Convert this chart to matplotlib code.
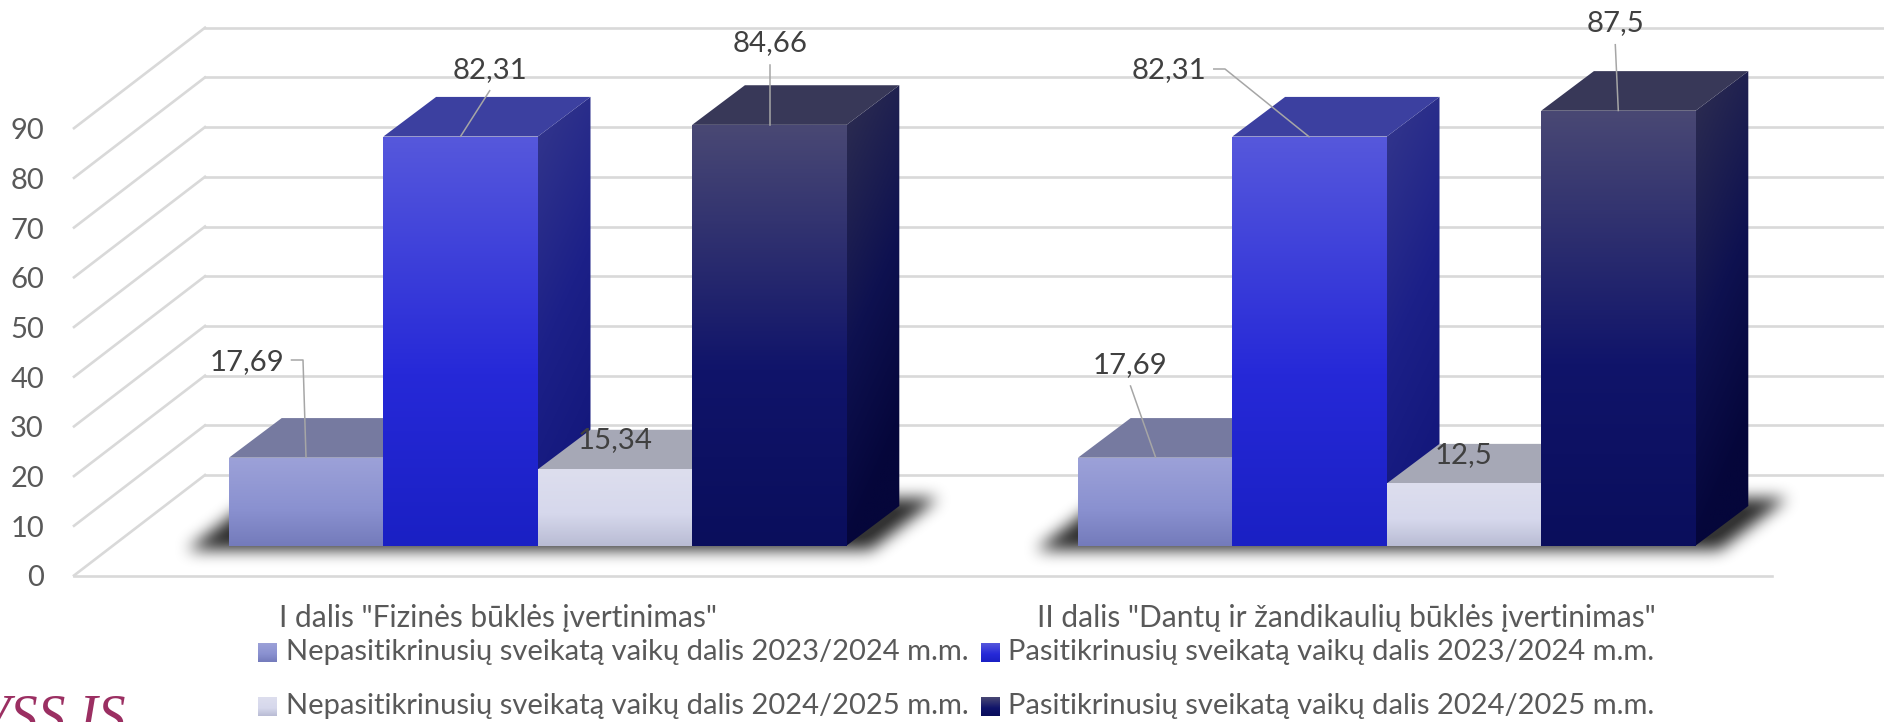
import numpy as np
import matplotlib
matplotlib.use('Agg')
import matplotlib.pyplot as plt
from matplotlib.colors import LinearSegmentedColormap
from matplotlib.patches import Polygon
from matplotlib.path import Path

plt.rcParams['font.family'] = ['Lato', 'DejaVu Sans']

# data
groups = ['I dalis "Fizinės būklės įvertinimas"',
          'II dalis "Dantų ir žandikaulių būklės įvertinimas"']
nepasitikrinusiu_2324 = [17.69, 17.69]
pasitikrinusiu_2324 = [82.31, 82.31]
nepasitikrinusiu_2425 = [15.34, 12.5]
pasitikrinusiu_2425 = [84.66, 87.5]
series_names = ['Nepasitikrinusių sveikatą vaikų dalis 2023/2024 m.m.',
                'Pasitikrinusių sveikatą vaikų dalis 2023/2024 m.m.',
                'Nepasitikrinusių sveikatą vaikų dalis 2024/2025 m.m.',
                'Pasitikrinusių sveikatą vaikų dalis 2024/2025 m.m.']
y_ticks = [0, 10, 20, 30, 40, 50, 60, 70, 80, 90]
label_texts = [['17,69', '82,31', '15,34', '84,66'],
               ['17,69', '82,31', '12,5', '87,5']]

series = [nepasitikrinusiu_2324, pasitikrinusiu_2324,
          nepasitikrinusiu_2425, pasitikrinusiu_2425]

# colours: front gradient, top face, side gradient
front_cols = [['#9CA1D8', '#8A91D0', '#747BBB'],
              ['#5658DC', '#2629D8', '#1A20C4'],
              ['#DDDEEE', '#D6D8EC', '#B9BCD4'],
              ['#494874', '#10146A', '#0A0E5C']]
top_cols = ['#767AA0', '#3C40A0', '#A6A8B6', '#383858']
side_cols = [['#6A6FA8', '#5A60A0', '#4A5090'],
             ['#34378C', '#1C2088', '#14187C'],
             ['#B0B2C8', '#A0A2BC', '#8A8CA8'],
             ['#2E2E50', '#0E1150', '#05063A']]

# layout in pixels
W, H = 1884, 722
BASE = 545.6      # bar bottom
SCALE = 4.97      # px per unit
GROUP_X = [229, 1078]
BAR_W = 154.4
DX, DY = 52.7, 39.6
FRONT_X, BACK_X = 74, 205
FRONT_0, BACK_0 = 575.5, 475
GRID_END_FRONT, GRID_END_BACK = 1772, 1884


def val(py):
    # pixel row -> value on the y scale
    return (BASE - py) / SCALE


fig = plt.figure(figsize=(W / 100, H / 100), dpi=100)
ax = fig.add_axes([0, 0, 1, 1])
ax.axis('off')


def gradient(cols, x0, x1, v0, v1, clip, z, slant=0.0):
    cmap = LinearSegmentedColormap.from_list('g', [(0, cols[0]), (0.58, cols[1]), (1, cols[2])])
    t = np.linspace(0, 1, 200)[:, None] + slant * np.linspace(0, 1, 40)[None, :]
    t = np.clip(t, 0, 1)
    im = ax.imshow(t, cmap=cmap, vmin=0, vmax=1, extent=[x0, x1, v0, v1], origin='upper',
                   aspect='auto', interpolation='bilinear', zorder=z)
    p = Polygon(clip, closed=True, transform=ax.transData)
    im.set_clip_path(p)


def shadow(x_left, x_right, z):
    # soft parallelogram on the floor
    x0, x1 = int(x_left - 90), int(x_right + 170)
    y0, y1 = 450, 600
    xs, ys = np.meshgrid(np.arange(x0, x1), np.arange(y0, y1))
    poly = Path([(x_left - 42, 549), (x_right + 24, 549), (x_right + 92, 497), (x_left + 26, 497)])
    a = poly.contains_points(np.c_[xs.ravel(), ys.ravel()]).reshape(xs.shape).astype(float)
    k = np.ones(15) / 15
    for _ in range(3):
        a = np.apply_along_axis(lambda r: np.convolve(r, k, mode='same'), 0, a)
        a = np.apply_along_axis(lambda r: np.convolve(r, k, mode='same'), 1, a)
    rgba = np.zeros(a.shape + (4,))
    rgba[..., 3] = np.clip(a * 1.05, 0, 1) * 0.8
    ax.imshow(rgba, extent=[x0, x1, val(y1), val(y0)], origin='upper', aspect='auto',
              interpolation='bilinear', zorder=z)


# walls and grid
grid_c = '#D9D9D9'
for t in y_ticks:
    fy = FRONT_0 - t * SCALE
    by = BACK_0 - t * SCALE
    ax.plot([FRONT_X, BACK_X], [val(fy), val(by)], color=grid_c, lw=1.9, zorder=1)
    ax.plot([BACK_X, GRID_END_BACK], [val(by), val(by)], color=grid_c, lw=1.9, zorder=1)
    ax.text(44, val(fy + 3), str(t), ha='right', va='center', fontsize=21, color='#595959')
ax.plot([FRONT_X, GRID_END_FRONT], [val(FRONT_0), val(FRONT_0)], color=grid_c, lw=1.9, zorder=1)

# bars
dv = DY / SCALE
z = 3
for g, gx in enumerate(GROUP_X):
    shadow(gx, gx + 4 * BAR_W, 2)
    for s in range(4):
        v = series[s][g]
        x0 = gx + s * BAR_W
        x1 = x0 + BAR_W
        side = [(x1, 0), (x1 + DX, dv), (x1 + DX, v + dv), (x1, v)]
        gradient(side_cols[s], x1, x1 + DX, 0, v + dv, side, z, slant=0.25)
        z += 1
        ax.add_patch(Polygon([(x0, v), (x0 + DX, v + dv), (x1 + DX, v + dv), (x1, v)],
                             closed=True, fc=top_cols[s], ec='none', zorder=z))
        z += 1
        front = [(x0, 0), (x1, 0), (x1, v), (x0, v)]
        gradient(front_cols[s], x0, x1, 0, v, front, z)
        z += 1

# data labels and leader lines (pixels)
label_pos = [[(246.7, 362), (490, 70), (615, 440.5), (769.7, 43)],
             [(1130.5, 365.5), (1168.6, 70), (1464, 455), (1615, 23)]]
leaders = [[(291.5, 360), (303, 360), (306, 457)],
           [(489.7, 90.7), (460.6, 136.3)],
           [(769.7, 64.5), (769.7, 124.8)],
           [(1213.8, 69), (1225, 69), (1309, 136.7)],
           [(1615.3, 44.7), (1618.3, 110.5)],
           [(1130.5, 386), (1155.5, 457)]]
for pts in leaders:
    ax.plot([p[0] for p in pts], [val(p[1]) for p in pts], color='#A6A6A6', lw=1.1, zorder=80)
for g in range(2):
    for s in range(4):
        px, py = label_pos[g][s]
        ax.text(px, val(py), label_texts[g][s], ha='center', va='center', fontsize=21.2,
                color='#404040', zorder=90)

# category labels
cat_x = [498, 1346.5]
for cx, name in zip(cat_x, groups):
    ax.text(cx, val(618), name, ha='center', va='center', fontsize=21.5, color='#595959', zorder=90)

# legend, drawn by hand for the gradient swatches
swatch_x = [258, 981, 258, 981]
swatch_y = [643, 643, 697, 697]
for s, name in enumerate(series_names):
    x0, y0 = swatch_x[s], swatch_y[s]
    corners = [(x0, val(y0)), (x0 + 19, val(y0)), (x0 + 19, val(y0 + 19)), (x0, val(y0 + 19))]
    gradient(front_cols[s], x0, x0 + 19, val(y0 + 19), val(y0), corners, 95)
    ax.text(x0 + 27.5, val(y0 + 9), name, ha='left', va='center', fontsize=21, color='#595959', zorder=96)

# cut off text at the lower left edge
ax.text(125, val(733), 'VSS IS', ha='right', va='baseline', fontsize=40, style='italic',
        family='Liberation Serif', color='#9B2F62', zorder=96, clip_on=False)

ax.set_xlim(0, W)
ax.set_ylim(val(H), val(0))
fig.savefig('out.png', dpi=100)
